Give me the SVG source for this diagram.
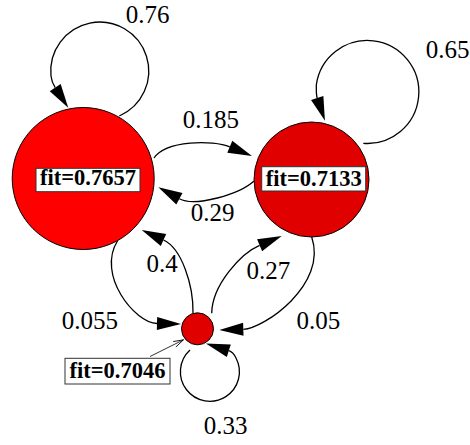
<svg xmlns="http://www.w3.org/2000/svg" width="470" height="445" viewBox="0 0 470 445">
<defs>
<style>
.node{stroke:#000;stroke-width:1}
.lbl{fill:#fff;stroke:#333;stroke-width:1}
.nt{font-family:"Liberation Serif","Times New Roman",serif;font-weight:bold;font-size:22.5px;text-anchor:middle;fill:#000}
.et{font-family:"Liberation Serif","Times New Roman",serif;font-size:25px;text-anchor:middle;fill:#000}
.edge{fill:none;stroke:#000;stroke-width:1.3}
.ptr{fill:none;stroke:#000;stroke-width:0.8}
</style>
<marker id="arr" markerUnits="userSpaceOnUse" markerWidth="26" markerHeight="16" refX="0" refY="0" viewBox="0 -8 26 16" orient="auto" overflow="visible">
<path d="M0,-6.5 L24,0 L0,6.5 Z" fill="#000"/>
</marker>
<marker id="open" markerUnits="userSpaceOnUse" markerWidth="12" markerHeight="8" refX="0" refY="0" viewBox="-12 -4 12 8" orient="auto" overflow="visible">
<path d="M-10,-3 L0,0 L-10,3" fill="none" stroke="#000" stroke-width="0.8"/>
</marker>
</defs>
<rect width="470" height="445" fill="#fff"/>
<g id="connectors">
<path class="edge" marker-end="url(#arr)" d="M119.3,116 A49,49 0 1 0 51,76 C51.4,80 53,84.2 55.2,87.6"/>
<path class="edge" marker-end="url(#arr)" d="M363.3,143.3 A51.5,51.5 0 1 0 316.3,85 C316.5,89 315.9,94.2 317.2,98"/>
<path class="edge" marker-end="url(#arr)" d="M154,158 C166,140 213.2,139.9 229.8,146.8"/>
<path class="edge" marker-end="url(#arr)" d="M254,181 C240,194 195.2,207.4 179.4,198.8"/>
<path class="edge" marker-end="url(#arr)" d="M193,313 C193.5,285 181.7,248.4 163.5,240"/>
<path class="edge" marker-end="url(#arr)" d="M211.7,313.3 C212,285 241.2,253.1 259.6,245.3"/>
<path class="edge" marker-end="url(#arr)" d="M117.7,240.5 C96,275 135,323 157,323.5"/>
<path class="edge" marker-end="url(#arr)" d="M311.7,237 C328,285 263.3,328.7 243.3,329.3"/>
<path class="edge" marker-end="url(#arr)" d="M190,350 A29.5,29.5 0 1 0 236,358 C234.2,354.4 232.6,351.9 228.8,350.7"/>
<path class="ptr" marker-end="url(#open)" d="M150,356.5 L183.5,339.8"/>
<text class="et" x="147.5" y="22.7">0.76</text>
<text class="et" x="210.9" y="128.3">0.185</text>
<text class="et" x="212.5" y="220.7">0.29</text>
<text class="et" x="447.5" y="58.3">0.65</text>
<text class="et" x="162.2" y="271.7">0.4</text>
<text class="et" x="268.3" y="279">0.27</text>
<text class="et" x="89.8" y="329">0.055</text>
<text class="et" x="318.3" y="329">0.05</text>
<text class="et" x="225.5" y="434">0.33</text>
</g>
<g id="n1">
<circle class="node" cx="83.2" cy="178.5" r="71" fill="#ff0000"/>
<rect class="lbl" x="36" y="168.3" width="104" height="23.4"/>
<text class="nt" x="88" y="185.3">fit=0.7657</text>
</g>
<g id="n2">
<circle class="node" cx="311.5" cy="179.5" r="57.5" fill="#e00000"/>
<rect class="lbl" x="261.7" y="166.7" width="104" height="24.3"/>
<text class="nt" x="313.7" y="185.5">fit=0.7133</text>
</g>
<g id="n3">
<circle class="node" cx="197.5" cy="328.8" r="16" fill="#e00000"/>
<rect class="lbl" x="65" y="358.3" width="105" height="25.7"/>
<text class="nt" x="117.5" y="377.7">fit=0.7046</text>
</g>
</svg>
